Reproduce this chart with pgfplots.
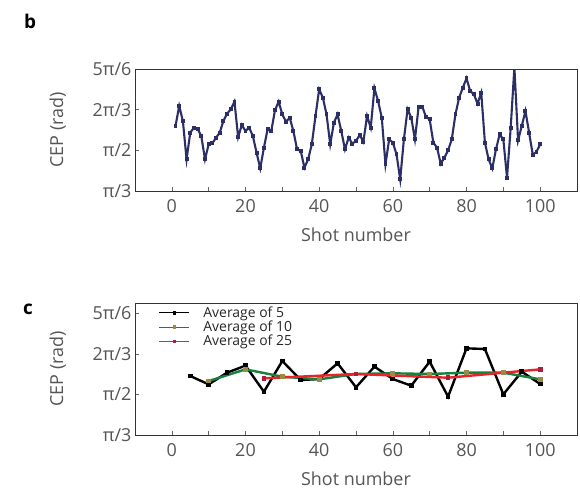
\documentclass[border=0pt]{standalone}
\usepackage{pgfplots}
\pgfplotsset{compat=1.18}
\usepackage{fontspec}
\setmainfont{Open Sans}
\definecolor{navy}{RGB}{44,46,102}
\definecolor{avggreen}{RGB}{22,128,62}
\definecolor{avggreenmark}{RGB}{150,140,70}
\definecolor{avgred}{RGB}{232,36,40}
\definecolor{avgredmark}{RGB}{170,30,60}
\definecolor{txt}{RGB}{85,85,85}
\newcommand{\lf}{\fontsize{14}{15}\selectfont}
\pgfplotsset{
  cepaxis/.style={
    scale only axis, width=442bp,
    xmin=-10, xmax=110,
    xtick={0,10,...,100}, xticklabels={0,,20,,40,,60,,80,,100},
    ytick={1.0472,1.5708,2.0944,2.6180}, yticklabels={π/3,π/2,2π/3,5π/6},
    ymin=1.0472,
    tick pos=left,
    tick align=inside, major tick length=4bp,
    tick style={draw=black!60, line width=0.6bp},
    axis line style={draw=black!80, line width=0.9bp},
    tick label style={font=\fontsize{18}{20}\selectfont, text=txt},
    xticklabel style={yshift=-5bp},
    label style={font=\fontsize{18}{20}\selectfont, text=txt},
    xlabel style={yshift=-8bp},
    xlabel={Shot number}, ylabel={CEP (rad)},
    ylabel shift=20bp,
  }
}
\begin{document}
\begin{tikzpicture}
\path[use as bounding box] (0,0) rectangle (580bp,-488bp);
\begin{axis}[cepaxis, at={(135bp,-69bp)}, anchor=north west, height=122bp, ymax=2.6180]
\addplot[navy, line width=2.1bp, mark=square*, mark size=0.9bp] coordinates {
(1,1.884) (2,2.142) (3,1.949) (4,1.455) (5,1.798) (6,1.863) (7,1.850) (8,1.755) (9,1.455) (10,1.648)
(11,1.661) (12,1.734) (13,1.798) (14,1.949) (15,2.043) (16,2.099) (17,2.197) (18,1.742) (19,1.897) (20,1.820)
(21,1.863) (22,1.755) (23,1.541) (24,1.339) (25,1.605) (26,1.841) (27,1.820) (28,2.086) (29,2.197) (30,2.034)
(31,1.940) (32,1.991) (33,1.820) (34,1.584) (35,1.562) (36,1.348) (37,1.455) (38,1.648) (39,2.013) (40,2.356)
(41,2.249) (42,2.034) (43,1.648) (44,1.927) (45,2.034) (46,1.820) (47,1.584) (48,1.734) (49,1.657) (50,1.691)
(51,1.768) (52,1.682) (53,2.013) (54,1.863) (55,2.369) (56,2.206) (57,1.991) (58,1.391) (59,1.712) (60,1.670)
(61,1.519) (62,1.197) (63,1.712) (64,2.099) (65,1.991) (66,1.712) (67,2.133) (68,2.133) (69,2.000) (70,1.970)
(71,1.670) (72,1.605) (73,1.399) (74,1.476) (75,1.571) (76,1.712) (77,2.034) (78,2.249) (79,2.378) (80,2.498)
(81,2.335) (82,2.292) (83,2.172) (84,2.313) (85,1.670) (86,1.455) (87,1.339) (88,1.584) (89,1.777) (90,1.712)
(91,1.219) (92,1.863) (93,2.640) (94,1.700) (95,1.884) (96,2.077) (97,1.798) (98,1.511) (99,1.554) (100,1.648)
};
\end{axis}
\node[font=\bfseries\fontsize{19}{20}\selectfont] at (30bp,-21bp) {b};
\begin{axis}[cepaxis, at={(135bp,-303bp)}, anchor=north west, height=132bp, ymax=2.754,
  legend style={at={(rel axis cs:0.054,0.985)}, anchor=north west, draw=none, fill=none,
    row sep=-1bp, inner sep=0pt,
    column sep=12bp, nodes={inner sep=1.5bp, anchor=west, text=black!85}},
  legend cell align=left,
  legend image code/.code={\draw[mark repeat=2,mark phase=2,#1,line width=0.8bp] plot coordinates {(0bp,0bp) (15bp,0bp) (30bp,0bp)};}
]
\addplot[black, line width=2.4bp, mark=square*, mark size=1.2bp] coordinates {
(5,1.810) (10,1.702) (15,1.853) (20,1.944) (25,1.607) (30,2.004) (35,1.758) (40,1.771) (45,1.974) (50,1.664)
(55,1.931) (60,1.771) (65,1.685) (70,1.995) (75,1.543) (80,2.168) (85,2.159) (90,1.573) (95,1.866) (100,1.707)
};
\addlegendentry{\lf Average of 5}
\addplot[avggreen, line width=2.4bp, mark=square*, mark size=1.2bp, mark options={fill=avggreenmark, draw=avggreenmark}] coordinates {
(10,1.745) (20,1.896) (30,1.801) (40,1.767) (50,1.836) (60,1.845) (70,1.836) (80,1.853) (90,1.853) (100,1.767)
};
\addlegendentry{\lf Average of 10}
\addplot[avgred, line width=2.4bp, mark=square*, mark size=1.2bp, mark options={fill=avgredmark, draw=avgredmark}] coordinates {
(25,1.780) (50,1.836) (75,1.788) (100,1.896)
};
\addlegendentry{\lf Average of 25}
\end{axis}
\node[font=\bfseries\fontsize{19}{20}\selectfont] at (28bp,-309bp) {c};
\end{tikzpicture}
\end{document}
